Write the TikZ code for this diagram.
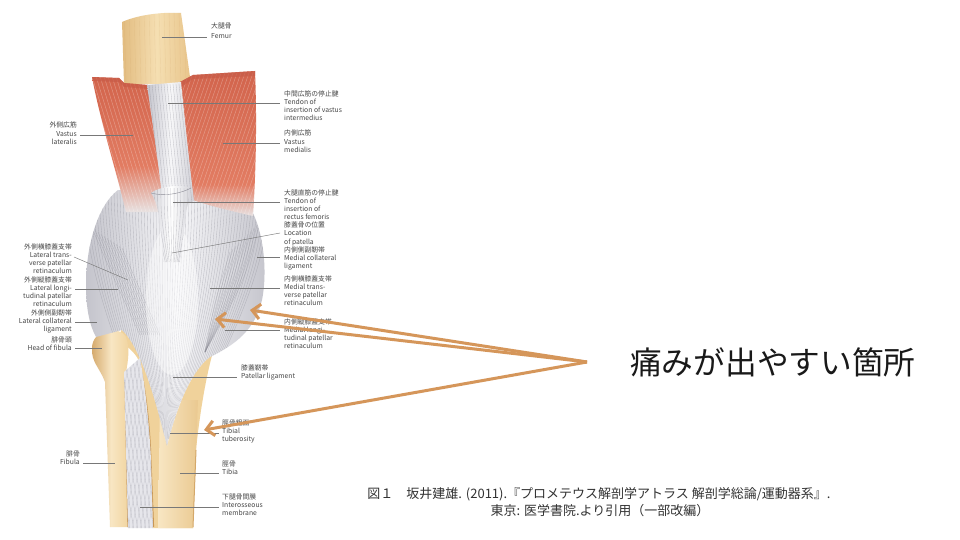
\documentclass[tikz,border=0pt]{standalone}
\usepackage{fontspec}
\setmainfont{Noto Sans CJK JP}
\usetikzlibrary{arrows.meta}
\definecolor{musc}{RGB}{226,124,98}
\definecolor{muscd}{RGB}{210,100,76}
\definecolor{musccut}{RGB}{200,92,72}
\definecolor{mfade}{RGB}{232,226,226}
\definecolor{bone}{RGB}{240,210,155}
\definecolor{boned}{RGB}{200,150,85}
\definecolor{bonel}{RGB}{248,230,195}
\definecolor{femL}{RGB}{226,188,128}
\definecolor{femM}{RGB}{245,223,178}
\definecolor{femR}{RGB}{232,196,138}
\definecolor{capl}{RGB}{247,247,249}
\definecolor{capd}{RGB}{196,196,204}
\definecolor{fibre}{RGB}{140,140,150}
\definecolor{memb}{RGB}{230,230,235}
\definecolor{arrowc}{RGB}{213,150,90}
\definecolor{labc}{RGB}{70,70,70}
\definecolor{leadc}{RGB}{120,120,120}
\definecolor{capc}{RGB}{50,50,50}
\pgfdeclareverticalshading{latfade}{100bp}{color(0bp)=(mfade); color(25bp)=(mfade); color(42bp)=(musc); color(75bp)=(muscd); color(100bp)=(muscd)}
\pgfdeclareverticalshading{medfade}{100bp}{color(0bp)=(mfade); color(25bp)=(mfade); color(36bp)=(musc); color(75bp)=(muscd); color(100bp)=(muscd)}
\newcommand\latpath{(92,77) -- (119,78) -- (124,83) -- (148,85) .. controls (152,120) and (158,160) .. (165,212) -- (126,212) .. controls (116,170) and (100,120) .. (92,77) -- cycle}
\newcommand\medpath{(180,82) -- (193,75) -- (255,71) .. controls (257,120) and (256,170) .. (253,216) .. controls (235,212) and (210,206) .. (193,200) .. controls (188,160) and (184,120) .. (180,82) -- cycle}
\newcommand\tendpath{(147,85) -- (181,82) .. controls (185,120) and (189,160) .. (194,201) -- (164,212) .. controls (158,160) and (152,120) .. (147,85) -- cycle}
\newcommand\capsulepath{(118,190) .. controls (98,205) and (86,245) .. (86,285) .. controls (86,310) and (90,326) .. (96,337) -- (122,330) .. controls (138,345) and (152,385) .. (167,446) .. controls (176,410) and (190,372) .. (210,357) .. controls (235,345) and (255,330) .. (262,300) .. controls (268,270) and (263,228) .. (250,208) -- (200,193) -- cycle}
\newcommand\membpath{(124,372) -- (140,358) .. controls (145,385) and (149,420) .. (151,460) -- (153,528) -- (128,528) -- cycle}
\newcommand\fempath{(122,22) .. controls (140,14) and (165,12) .. (181,13) -- (191,84) -- (124,84) -- cycle}
\newcommand\leadln[3]{\coordinate (#1a) at #2; \coordinate (#1b) at #3; \draw[leader] (#1a) -- (#1b);}
\begin{document}
\begin{tikzpicture}[x=1pt,y=-1pt,
 lab/.style={font=\fontsize{6.8}{8.1}\selectfont, text=labc, inner sep=0pt},
 labr/.style={lab, anchor=north west, align=left},
 labl/.style={lab, anchor=north east, align=right},
 leader/.style={draw=leadc, line width=0.45pt},
 musfib/.style={draw=white, opacity=0.3, line width=0.45pt},
 capfib/.style={draw=fibre, opacity=0.45, line width=0.35pt},
 pain/.style={draw=arrowc, line width=3pt, -{Straight Barb[length=8pt,width=15pt]}},
]
\fill[white] (0,0) rectangle (960,540);
\useasboundingbox (0,0) rectangle (960,540);

% femur
\shade[left color=femL, right color=femR, middle color=femM] \fempath;
\begin{scope}
\clip \fempath;
\foreach \i in {0,...,13} \draw[boned, opacity=0.15, line width=0.4pt] ({124+5*\i},10) -- ({126+5*\i},84);
\end{scope}

% tibia
\fill[bone] (120,334) .. controls (122,322) and (140,319) .. (148,330) -- (218,338) -- (213,352) .. controls (205,380) and (199,420) .. (196,450) -- (193,528) -- (153,528) -- (150,450) .. controls (148,410) and (143,380) .. (139,362) .. controls (136,350) and (121,346) .. (120,334) -- cycle;
\shade[left color=bonel, right color=bone!85!boned] (160,400) -- (198,400) -- (193,528) -- (158,528) -- cycle;
\draw[boned, line width=2.2pt] (139,362) .. controls (143,380) and (148,410) .. (150,450) -- (153,527);
\draw[boned!70!bone, line width=1pt] (196,450) -- (193,527);
% fibula
\shade[left color=boned!70!bone, right color=bone, middle color=bonel] (92,348) .. controls (92,330) and (118,324) .. (126,337) .. controls (131,350) and (127,366) .. (125,378) -- (128,527) -- (110,527) -- (105,382) .. controls (100,368) and (91,362) .. (92,348) -- cycle;
\draw[boned, line width=1.3pt] (125,378) -- (128,527);
% interosseous membrane
\fill[memb] \membpath;
\begin{scope}
\clip \membpath;
\foreach \i in {0,...,14} {
  \draw[fibre, opacity=0.45, line width=0.35pt] ({100+4*\i},355) -- ({130+4*\i},530);
  \draw[fibre, opacity=0.3, line width=0.35pt] ({130+4*\i},355) -- ({100+4*\i},530);
}
\end{scope}

% capsule
\shade[left color=capd, right color=capd, middle color=capl] \capsulepath;
\begin{scope}
\clip \capsulepath;
\foreach \i in {0,...,62} {
  \pgfmathsetmacro\xa{84+3*\i}
  \pgfmathsetmacro\xb{167+(\xa-172)*0.25}
  \draw[capfib] (\xa,185) .. controls (\xa,300) and (\xb,390) .. (\xb,450);
}
\foreach \i in {0,...,10} \draw[capfib] ({92+\i*3},{228+\i*2}) .. controls ({110+\i*3},{270+\i*2}) .. ({140+\i*2},335);
\foreach \i in {0,...,10} \draw[capfib] ({260-\i*3},{222+\i*3}) .. controls ({245-\i*3},{280+\i*2}) .. (205,352);
\fill[white, opacity=0.45] (172,300) ellipse [x radius=26, y radius=75];
\end{scope}

% muscles
\shade[shading=latfade] \latpath;
\begin{scope}
\clip \latpath;
\foreach \i in {0,...,30} \draw[musfib] ({50+4*\i},70) -- ({95+4*\i},215);
\fill[musccut, opacity=0.7] (92,77) -- (119,78) -- (124,83) -- (148,85) -- (148,89) -- (124,87) -- (119,82) -- (92,81) -- cycle;
\end{scope}
\shade[shading=medfade] \medpath;
\begin{scope}
\clip \medpath;
\foreach \i in {0,...,34} \draw[musfib] ({120+4*\i},215) -- ({170+4*\i},70);
\fill[musccut, opacity=0.7] (180,82) -- (193,75) -- (255,71) -- (255,76) -- (193,79) -- (181,87) -- cycle;
\end{scope}
% central tendon
\shade[left color=capd, right color=capd!80!white, middle color=capl] \tendpath;
\begin{scope}
\clip \tendpath;
\foreach \i in {0,...,12} \draw[capfib] ({146+3*\i},84) -- ({160+3*\i},212);
\end{scope}
% rectus femoris tendon
\shade[left color=capd!75!white, right color=capd!75!white, middle color=white] (151,193) .. controls (160,186) and (182,184) .. (191,188) .. controls (186,205) and (184,232) .. (180,262) -- (164,262) .. controls (161,232) and (160,205) .. (151,193) -- cycle;
\begin{scope}
\clip (151,193) .. controls (160,186) and (182,184) .. (191,188) .. controls (186,205) and (184,232) .. (180,262) -- (164,262) .. controls (161,232) and (160,205) .. (151,193) -- cycle;
\foreach \i in {0,...,12} \draw[capfib] ({151+3.3*\i},188) .. controls ({151+3.3*\i},215) .. ({164+1.3*\i},262);
\end{scope}
\draw[fibre, line width=0.4pt] (151,193) .. controls (165,197) and (182,193) .. (191,188);

% leaders
\leadln{fem}{(162,37)}{(207,37)}
\leadln{vi}{(168,103)}{(280,103)}
\leadln{vm}{(223,143)}{(280,143)}
\leadln{rf}{(173,202)}{(280,202)}
\leadln{pa}{(172,253)}{(280,233)}
\leadln{mc}{(257,257)}{(280,257)}
\leadln{mt}{(210,288)}{(280,288)}
\leadln{ml}{(225,330)}{(280,330)}
\leadln{pl}{(173,377)}{(237,377)}
\leadln{tt}{(170,433)}{(219,433)}
\leadln{tb}{(180,473)}{(219,473)}
\leadln{im}{(140,507)}{(219,507)}
\leadln{vl}{(80,135)}{(133,135)}
\leadln{lt}{(74,257)}{(128,280)}
\leadln{ll}{(75,289)}{(118,289)}
\leadln{lc}{(75,322)}{(97,322)}
\leadln{hf}{(75,348)}{(102,348)}
\leadln{fb}{(83,463)}{(115,463)}

% labels right
\node[labr] (lfem) at (211,23) {大腿骨\\[1pt]Femur};
\node[labr] (lvi) at (284,90.5) {中間広筋の停止腱\\Tendon of\\insertion of vastus\\intermedius};
\node[labr] (lvm) at (284,129.5) {内側広筋\\[1pt]Vastus\\medialis};
\node[labr] (lrf) at (284,189.5) {大腿直筋の停止腱\\Tendon of\\insertion of\\rectus femoris\\膝蓋骨の位置\\Location\\of patella\\内側側副靭帯\\Medial collateral\\ligament};
\node[labr] (lmt) at (284,275.5) {内側横膝蓋支帯\\Medial trans-\\verse patellar\\retinaculum};
\node[labr] (lml) at (284,318.5) {内側縦膝蓋支帯\\Medial longi-\\tudinal patellar\\retinaculum};
\node[labr] (lpl) at (241,364.5) {膝蓋靭帯\\Patellar ligament};
\node[labr] (ltt) at (222,419.5) {脛骨粗面\\Tibial\\tuberosity};
\node[labr] (ltb) at (222,460.5) {脛骨\\Tibia};
\node[labr] (lim) at (222,493.5) {下腿骨間膜\\Interosseous\\membrane};
% labels left
\node[labl] (lvl) at (77,121.5) {外側広筋\\[1pt]Vastus\\lateralis};
\node[labl] (llt) at (72,243.5) {外側横膝蓋支帯\\Lateral trans-\\verse patellar\\retinaculum};
\node[labl] (lll) at (72,276.5) {外側縦膝蓋支帯\\Lateral longi-\\tudinal patellar\\retinaculum};
\node[labl] (llc) at (72,309.5) {外側側副靭帯\\Lateral collateral\\ligament};
\node[labl] (lhf) at (72,336.5) {腓骨頭\\Head of fibula};
\node[labl] (lfib) at (80,450.5) {腓骨\\Fibula};

% pain arrows
\coordinate (src) at (587,362);
\coordinate (t1) at (250,310);
\coordinate (t2) at (215,319);
\coordinate (t3) at (204,430);
\draw[pain] (src) -- (t1);
\draw[pain] (src) -- (t2);
\draw[pain] (src) -- (t3);
\node[anchor=west, inner sep=0pt, font=\fontsize{31.7}{38}\selectfont, text=black!90] (pain) at (630,362) {痛みが出やすい箇所};

% caption
\node[inner sep=0pt, font=\fontsize{13}{16}\selectfont, text=capc] (cap1) at (599,494) {図１　坂井建雄. (2011).『プロメテウス解剖学アトラス 解剖学総論/運動器系』.};
\node[inner sep=0pt, font=\fontsize{13}{16}\selectfont, text=capc] (cap2) at (600,511) {東京: 医学書院.より引用（一部改編）};
\end{tikzpicture}
\end{document}
